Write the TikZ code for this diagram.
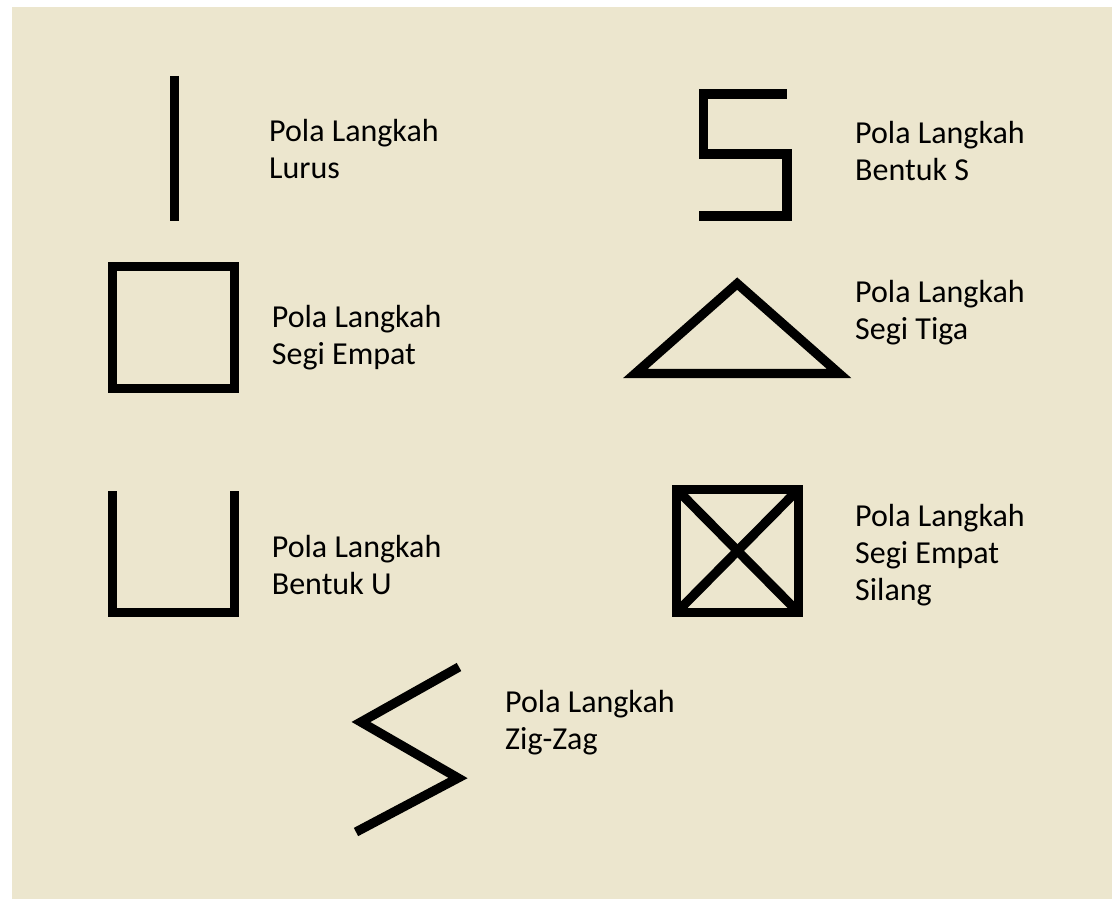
\documentclass[tikz,border=0pt]{standalone}
\usepackage{fontspec}
\setmainfont{Carlito}
\definecolor{bg}{RGB}{236,230,206}
\begin{document}
\begin{tikzpicture}[x=1pt,y=-1pt,
  shp/.style={draw=black,line width=9.3pt,line join=miter,line cap=butt},
  lbl/.style={anchor=base west,inner sep=0pt,align=left,font=\fontsize{32}{37}\selectfont}]
\useasboundingbox (0,0) rectangle (1112,899);
\fill[bg] (12,7) rectangle (1112,899);
% Lurus
\coordinate (l1) at (174.5,76);
\coordinate (l2) at (174.5,221);
\draw[shp] (l1) -- (l2);
\node[lbl] (tLurus) at (269,178.5) {Pola Langkah\\Lurus};
% Segi Empat
\coordinate (q1) at (112.8,266.8);
\coordinate (q2) at (234.5,388.2);
\draw[shp] (q1) rectangle (q2);
\node[lbl] (tSegi) at (271.7,364.5) {Pola Langkah\\Segi Empat};
% U
\coordinate (u1) at (112.8,491);
\coordinate (u2) at (112.8,612.5);
\coordinate (u3) at (234.5,612.5);
\coordinate (u4) at (234.5,491);
\draw[shp] (u1) -- (u2) -- (u3) -- (u4);
\node[lbl] (tU) at (271.7,594.5) {Pola Langkah\\Bentuk U};
% S
\coordinate (s1) at (786.7,94);
\coordinate (s2) at (703.5,94);
\coordinate (s3) at (703.5,154);
\coordinate (s4) at (787,154);
\coordinate (s5) at (787,216);
\coordinate (s6) at (699,216);
\draw[shp] (s1) -- (s2) -- (s3) -- (s4) -- (s5) -- (s6);
\node[lbl] (tS) at (855,180) {Pola Langkah\\Bentuk S};
% Segitiga
\coordinate (t1) at (737.2,283.6);
\coordinate (t2) at (635.3,373.5);
\coordinate (t3) at (839.1,373.5);
\draw[shp] (t1) -- (t2) -- (t3) -- cycle;
\node[lbl] (tTiga) at (855,339) {Pola Langkah\\Segi Tiga};
% Silang
\coordinate (x1) at (676.8,489.5);
\coordinate (x2) at (798.2,612.2);
\coordinate (x3) at (676.8,612.2);
\coordinate (x4) at (798.2,489.5);
\draw[shp] (x1) rectangle (x2);
\draw[shp] (x1) -- (x2);
\draw[shp] (x3) -- (x4);
\node[lbl] (tSilang) at (855,600) {Pola Langkah\\Segi Empat\\Silang};
% Zig-zag
\coordinate (z1) at (459,667);
\coordinate (z2) at (361,722);
\coordinate (z3) at (458,778);
\coordinate (z4) at (356,832);
\draw[shp] (z1) -- (z2) -- (z3) -- (z4);
\node[lbl] (tZig) at (505,749) {Pola Langkah\\Zig-Zag};
\end{tikzpicture}
\end{document}
